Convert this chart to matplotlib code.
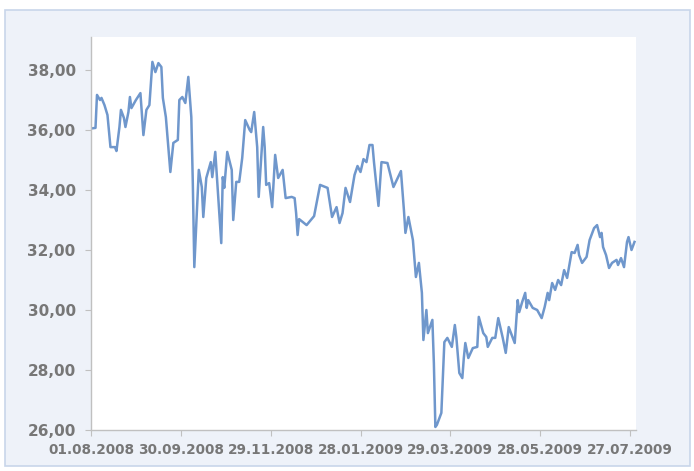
import numpy as np
import matplotlib
matplotlib.use("Agg")
import matplotlib.pyplot as plt
import matplotlib.dates as mdates
from matplotlib.patches import Rectangle

# days counted from 01.08.2008
start_date = np.datetime64("2008-08-01")
days = [0, 3, 4, 6, 7, 9, 11, 13, 16, 17, 19, 20, 22, 23, 25, 26, 27, 30, 33, 35,
        37, 39, 41, 43, 45, 47, 48, 50, 53, 55, 58, 59, 61, 63, 65, 67, 68, 69, 72, 74,
        75, 77, 80, 81, 83, 87, 88, 89, 91, 94, 95, 97, 99, 101, 103, 106, 107, 109, 111, 112,
        115, 116, 117, 119, 121, 123, 125, 128, 130, 134, 136, 137, 138, 139, 144, 149, 153, 158, 161, 164,
        166, 168, 170, 173, 176, 178, 180, 182, 184, 186, 188, 189, 192, 194, 198, 202, 207, 209, 210, 212,
        215, 217, 219, 221, 222, 224, 225, 228, 229, 230, 231, 234, 236, 238, 241, 243, 244, 246, 248, 249,
        250, 252, 255, 258, 259, 262, 264, 265, 268, 270, 272, 275, 277, 279, 283, 285, 286, 288, 290, 291,
        292, 295, 298, 301, 303, 305, 306, 308, 310, 312, 314, 316, 318, 321, 323, 325, 326, 328, 331, 333,
        336, 338, 340, 341, 342, 344, 346, 348, 351, 352, 354, 356, 358, 359, 361, 363]
prices = [36.05, 36.07, 37.17, 37.0, 37.07, 36.83, 36.5, 35.43, 35.43, 35.3, 36.1, 36.67, 36.4, 36.1, 36.6, 37.1, 36.73, 37.0, 37.23, 35.83,
          36.67, 36.83, 38.27, 37.93, 38.23, 38.1, 37.07, 36.43, 34.6, 35.57, 35.67, 37.0, 37.1, 36.9, 37.77, 36.43, 34.23, 31.43, 34.67, 34.1,
          33.1, 34.4, 34.93, 34.43, 35.27, 32.23, 34.43, 34.07, 35.27, 34.67, 33.0, 34.27, 34.27, 35.07, 36.33, 36.0, 35.93, 36.6, 35.43, 33.77,
          36.1, 35.43, 34.17, 34.23, 33.43, 35.17, 34.4, 34.67, 33.73, 33.77, 33.73, 33.23, 32.5, 33.03, 32.83, 33.13, 34.17, 34.07, 33.1, 33.43,
          32.9, 33.23, 34.07, 33.6, 34.5, 34.8, 34.6, 35.03, 34.93, 35.5, 35.5, 34.93, 33.47, 34.93, 34.9, 34.1, 34.63, 33.33, 32.57, 33.1,
          32.33, 31.1, 31.57, 30.57, 29.0, 30.0, 29.23, 29.67, 28.23, 26.1, 26.17, 26.57, 28.93, 29.07, 28.77, 29.5, 29.1, 27.9, 27.73, 28.4,
          28.9, 28.4, 28.73, 28.77, 29.77, 29.23, 29.1, 28.77, 29.07, 29.07, 29.73, 29.07, 28.57, 29.43, 28.9, 30.33, 29.93, 30.27, 30.57, 30.07,
          30.33, 30.07, 30.0, 29.73, 30.1, 30.57, 30.33, 30.9, 30.67, 31.0, 30.83, 31.33, 31.07, 31.93, 31.9, 32.17, 31.83, 31.57, 31.77, 32.33,
          32.73, 32.83, 32.43, 32.57, 32.1, 31.83, 31.4, 31.57, 31.67, 31.5, 31.73, 31.43, 32.27, 32.43, 32.0, 32.27]

tick_days = [0, 60, 120, 180, 240, 300, 360]
y_ticks = [26, 28, 30, 32, 34, 36, 38]

text_gray = "#777777"
line_blue = "#6f97cc"

dates = start_date + np.array(days).astype("timedelta64[D]")
tick_dates = start_date + np.array(tick_days).astype("timedelta64[D]")

fig = plt.figure(figsize=(6.94, 4.71), dpi=100, facecolor="white")
frame = Rectangle((5 / 694, 1 - 466 / 471), 685 / 694, 456 / 471,
                  transform=fig.transFigure, facecolor="#eef2f9",
                  edgecolor="#c8d6ea", linewidth=1.2, zorder=-10)
fig.add_artist(frame)

ax = fig.add_axes([91 / 694, 1 - 430 / 471, 545 / 694, 393 / 471])
ax.set_zorder(1)
ax.set_facecolor("white")
ax.plot(dates, prices, color=line_blue, linewidth=1.8)

ax.set_ylim(26, 39.1)
ax.set_xlim(start_date, start_date + np.timedelta64(364, "D"))
ax.set_yticks(y_ticks)
ax.set_yticklabels(["%d,00" % v for v in y_ticks])
ax.set_xticks(tick_dates)
ax.xaxis.set_major_formatter(mdates.DateFormatter("%d.%m.%Y"))

for side in ["top", "right"]:
    ax.spines[side].set_visible(False)
for side in ["left", "bottom"]:
    ax.spines[side].set_color("#c0c0c0")
    ax.spines[side].set_linewidth(1.0)

ax.tick_params(axis="y", colors="#c0c0c0", labelcolor=text_gray, length=4, pad=7, labelsize=11)
ax.tick_params(axis="x", colors="#c0c0c0", labelcolor=text_gray, length=4, pad=5, labelsize=9.8)
for lab in ax.get_xticklabels() + ax.get_yticklabels():
    lab.set_fontweight("bold")

fig.savefig("out.png", dpi=100, facecolor=fig.get_facecolor())
